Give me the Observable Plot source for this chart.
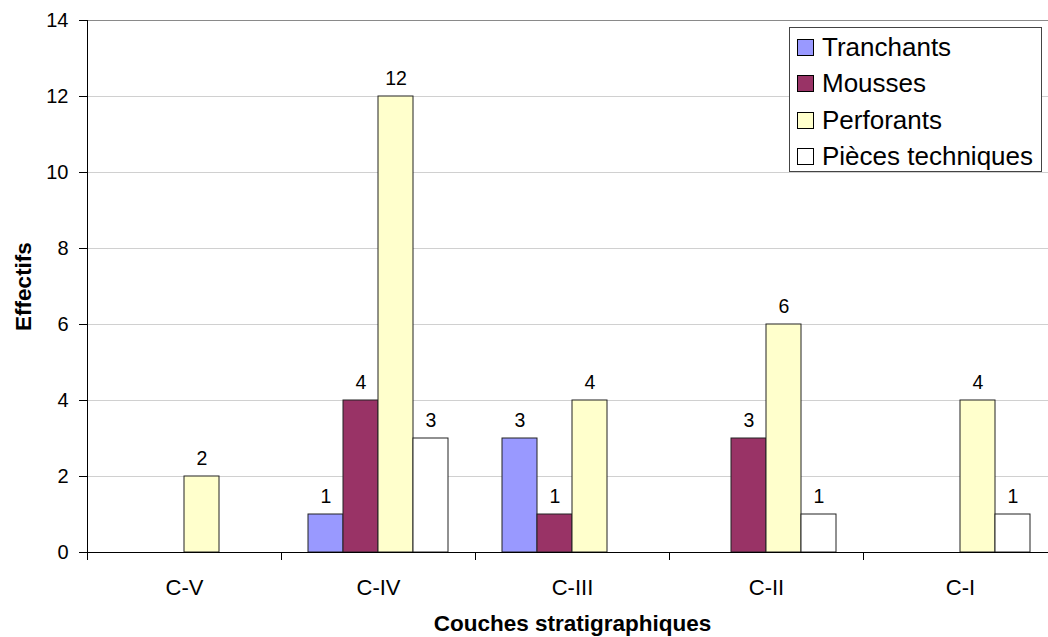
<!DOCTYPE html>
<html>
<head>
<meta charset="utf-8">
<script src="https://cdn.jsdelivr.net/npm/d3@7"></script>
<script src="https://cdn.jsdelivr.net/npm/@observablehq/plot@0.6"></script>
<style>
  html, body { margin: 0; padding: 0; background: #fff; overflow: hidden; }
  #wrap { position: relative; width: 1048px; height: 637px; font-family: "Liberation Sans", Arial, sans-serif; }
  #legend { position: absolute; left: 789px; top: 27px; width: 253px; height: 145px; border: 1px solid #444; background: #fff; box-sizing: border-box; padding-top: 1px; }
  .row { display: flex; align-items: center; height: 36.5px; padding-left: 7px; font-size: 26px; color: #000; white-space: nowrap; }
  .sw { width: 15px; height: 15px; border: 1px solid #000; margin-right: 8px; flex: none; }
</style>
</head>
<body>
<div id="wrap"></div>
<script>
const categories = ["C-V", "C-IV", "C-III", "C-II", "C-I"];
const series = ["Tranchants", "Mousses", "Perforants", "Pièces techniques"];
const colors = ["#9999FF", "#993366", "#FFFFCC", "#FFFFFF"];
const tranchants = [0, 1, 3, 0, 0];
const mousses = [0, 4, 1, 3, 0];
const perforants = [2, 12, 4, 6, 4];
const piecesTechniques = [0, 3, 0, 1, 1];
const yTicks = [0, 2, 4, 6, 8, 10, 12, 14];
const xTitle = "Couches stratigraphiques";
const yTitle = "Effectifs";

const valuesBySeries = [tranchants, mousses, perforants, piecesTechniques];
const rows = [];
categories.forEach((c, i) => {
  series.forEach((s, j) => rows.push({cat: c, series: s, value: valuesBySeries[j][i]}));
});

const font = "Liberation Sans, Arial, sans-serif";

const chart = Plot.plot({
  width: 1048,
  height: 637,
  marginLeft: 86,
  marginRight: -9,
  marginTop: 20,
  marginBottom: 85,
  style: {fontFamily: font, background: "#fff", color: "#000"},
  fx: {domain: categories, padding: 0, axis: null},
  x: {domain: series, paddingInner: 0, paddingOuter: 0.735, axis: null},
  y: {domain: [0, 14], axis: null},
  color: {domain: series, range: colors},
  marks: [
    Plot.gridY({ticks: yTicks.filter(t => t > 0 && t < 14), stroke: "#d0d0d0", strokeOpacity: 1}),
    Plot.ruleY([14], {stroke: "#8a8a8a"}),
    Plot.barY(rows, {filter: d => d.value > 0, fx: "cat", x: "series", y: "value", fill: "series", stroke: "#222", strokeWidth: 1}),
    Plot.text(rows, {filter: d => d.value > 0, fx: "cat", x: "series", y: "value", text: d => String(d.value), dy: -18, lineAnchor: "middle", fontSize: 19.5, fill: "#000"}),
    Plot.ruleY([0], {stroke: "#000"}),
    Plot.frame({anchor: "left", facetAnchor: "left", stroke: "#000"}),
    Plot.frame({anchor: "left", insetTop: 525, dy: 7, stroke: "#000"}),
    Plot.axisY({ticks: yTicks, tickSize: 8, tickPadding: 11, fontSize: 20, label: null, tickFormat: d => String(d)}),
    Plot.axisFx({anchor: "bottom", tickSize: 0, tickPadding: 27, fontSize: 22, label: null}),
    Plot.text([yTitle], {fx: () => categories[0], frameAnchor: "left", textAnchor: "middle", rotate: -90, dx: -64, fontWeight: "bold", fontSize: 22.5, lineAnchor: "middle", fill: "#000"}),
    Plot.text([xTitle], {fx: () => categories[2], frameAnchor: "bottom", textAnchor: "middle", dy: 71, fontWeight: "bold", fontSize: 22.5, lineAnchor: "middle", fill: "#000"})
  ]
});

const wrap = document.getElementById("wrap");
wrap.appendChild(chart);

const legend = document.createElement("div");
legend.id = "legend";
series.forEach((s, j) => {
  const row = document.createElement("div");
  row.className = "row";
  const sw = document.createElement("span");
  sw.className = "sw";
  sw.style.background = colors[j];
  const label = document.createElement("span");
  label.textContent = s;
  row.appendChild(sw);
  row.appendChild(label);
  legend.appendChild(row);
});
wrap.appendChild(legend);
</script>
</body>
</html>
